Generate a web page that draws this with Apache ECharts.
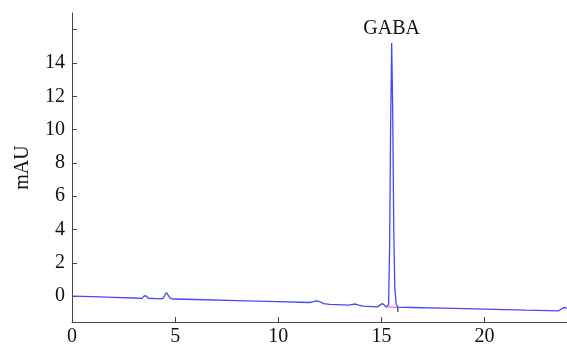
<!DOCTYPE html>
<html>
<head>
<meta charset="utf-8">
<script src="https://cdn.jsdelivr.net/npm/echarts@6/dist/echarts.min.js"></script>
<style>
  html, body { margin: 0; padding: 0; background: #fff; }
  #chart { width: 567px; height: 347px; }
</style>
</head>
<body>
<div id="chart"></div>
<script>
// retention time (min) vs signal (mAU)
var trace = [
  [0, 0.00], [1, -0.03], [2, -0.07], [3, -0.11], [3.4, -0.13],
  [3.5, 0.02], [3.55, 0.05], [3.6, 0.01], [3.7, -0.13], [4.0, -0.14],
  [4.4, -0.15], [4.5, 0.05], [4.58, 0.22], [4.65, 0.15], [4.75, -0.12],
  [4.9, -0.17], [6, -0.2], [8, -0.27], [10, -0.33], [11.5, -0.38],
  [11.7, -0.33], [11.85, -0.28], [12.0, -0.32], [12.2, -0.45], [12.5, -0.49],
  [13.4, -0.54], [13.6, -0.49], [13.75, -0.47], [13.9, -0.53], [14.1, -0.6],
  [14.8, -0.64], [14.95, -0.52], [15.05, -0.44], [15.15, -0.55], [15.25, -0.66],
  [15.35, -0.5], [15.4, 3.0], [15.45, 10.5], [15.5, 15.2], [15.55, 11.0],
  [15.6, 4.0], [15.65, 0.5], [15.72, -0.5], [15.8, -0.66], [16.5, -0.68],
  [18, -0.72], [20, -0.78], [22, -0.84], [23.6, -0.88], [23.75, -0.75],
  [23.85, -0.68], [24, -0.72]
];
var peakName = 'GABA';
var peakPoint = [15.5, 15.2];
var integBase = [[15.33, -0.64], [15.8, -0.67]];
var integMark = [[15.8, -0.67], [15.8, -0.95]];
var xTicks = [0, 5, 10, 15, 20];
var yTicks = [0, 2, 4, 6, 8, 10, 12, 14, 16];
var yLabels = [0, 2, 4, 6, 8, 10, 12, 14];

var font = '"Times New Roman", "Liberation Serif", serif';
var axisColor = '#444';

var chart = echarts.init(document.getElementById('chart'));
chart.setOption({
  animation: false,
  grid: { left: 72, right: 0, top: 13, bottom: 24 },
  xAxis: {
    type: 'value', min: 0, max: 24,
    axisLine: { onZero: false, lineStyle: { color: axisColor, width: 1 } },
    axisTick: { inside: true, length: 5, customValues: xTicks, lineStyle: { color: axisColor } },
    axisLabel: { customValues: xTicks, fontFamily: font, fontSize: 20, color: '#111', margin: 5 },
    splitLine: { show: false }
  },
  yAxis: {
    type: 'value', min: -1.55, max: 17,
    name: 'mAU', nameLocation: 'middle', nameGap: 39, nameRotate: 90,
    nameTextStyle: { fontFamily: font, fontSize: 20, color: '#111' },
    axisLine: { show: true, onZero: false, lineStyle: { color: axisColor, width: 1 } },
    axisTick: { show: true, inside: true, length: 5, customValues: yTicks, lineStyle: { color: axisColor } },
    axisLabel: { customValues: yLabels, fontFamily: font, fontSize: 20, color: '#111', margin: 7 },
    splitLine: { show: false }
  },
  series: [
    {
      type: 'line', data: trace, showSymbol: false, symbol: 'none',
      lineStyle: { color: '#4646ff', width: 1.3 }, z: 3,
      markPoint: {
        symbol: 'circle', symbolSize: 0, silent: true,
        data: [{ coord: peakPoint, name: peakName }],
        label: {
          show: true, formatter: peakName, position: 'top', distance: 4,
          fontFamily: font, fontSize: 20, color: '#111'
        }
      }
    },
    {
      type: 'line', data: integBase, showSymbol: false, symbol: 'none',
      lineStyle: { color: '#ff66cc', width: 1.2 }, z: 2
    },
    {
      type: 'line', data: integMark, showSymbol: false, symbol: 'none',
      lineStyle: { color: '#111', width: 1 }, z: 4
    }
  ]
});
</script>
</body>
</html>
